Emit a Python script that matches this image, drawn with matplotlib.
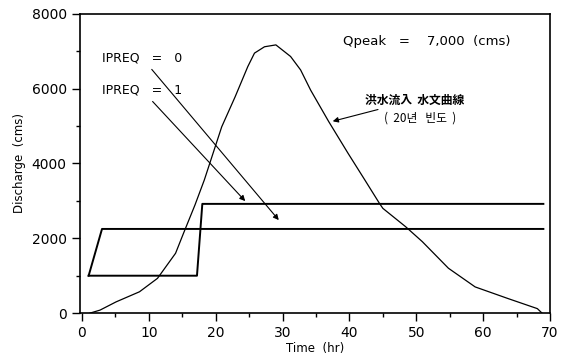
import numpy as np
import matplotlib.pyplot as plt

# inflow hydrograph (20-yr)
hydro_t = [1.2, 2.7, 5.1, 8.6, 11.3, 14.0, 15.2, 16.9, 18.3, 20.9, 22.9, 24.8, 25.8,
           27.3, 29.0, 31.2, 32.7, 34.2, 36.9, 39.8, 42.3, 44.5, 45.0, 48.4, 50.9,
           54.8, 58.8, 63.7, 68.1, 68.8]
hydro_q = [0, 80, 300, 570, 930, 1600, 2140, 2890, 3560, 4980, 5780, 6590, 6950,
           7120, 7170, 6860, 6500, 5960, 5120, 4270, 3560, 2930, 2800, 2310, 1910,
           1200, 700, 390, 120, 0]

# IPREQ = 0 release
ipreq0_t = [1.0, 3.0, 69.0]
ipreq0_q = [1000, 2250, 2250]

# IPREQ = 1 release
ipreq1_t = [1.0, 17.2, 18.0, 69.0]
ipreq1_q = [1000, 1000, 2920, 2920]

xticks = [0, 10, 20, 30, 40, 50, 60, 70]
yticks = [0, 2000, 4000, 6000, 8000]

fig = plt.figure(figsize=(5.63, 3.55), dpi=100)
ax = fig.add_axes([0.142, 0.118, 0.835, 0.843])

ax.plot(hydro_t, hydro_q, color='black', lw=0.9)
ax.plot(ipreq0_t, ipreq0_q, color='black', lw=1.4)
ax.plot(ipreq1_t, ipreq1_q, color='black', lw=1.4)

ax.set_xlim(-0.3, 70)
ax.set_ylim(0, 8000)
ax.set_xticks(xticks)
ax.set_yticks(yticks)
ax.set_xticks(np.arange(5, 70, 10), minor=True)
ax.set_yticks([1000, 3000, 5000, 7000], minor=True)
ax.tick_params(which='major', direction='out', length=6, width=1, labelsize=10)
ax.tick_params(which='minor', direction='out', length=3, width=1)
for s in ax.spines.values():
    s.set_linewidth(1.2)

ax.set_xlabel('Time  (hr)', fontsize=8.5, labelpad=1)
ax.set_ylabel('Discharge  (cms)', fontsize=8.5, labelpad=4)

arrow = dict(arrowstyle='-|>', color='black', lw=0.8, mutation_scale=8)
ax.annotate('IPREQ   =   0', xy=(29.7, 2430), xytext=(3.0, 6820), fontsize=9,
            va='center', arrowprops=arrow)
ax.annotate('IPREQ   =   1', xy=(24.7, 2940), xytext=(3.0, 5960), fontsize=9,
            va='center', arrowprops=arrow)
ax.text(39.0, 7250, 'Qpeak   =    7,000  (cms)', fontsize=9.5, va='center')

ax.annotate('洪水流入  水文曲線', xy=(37.1, 5110), xytext=(42.4, 5700),
            fontsize=8.5, va='center', weight='bold',
            family=['Noto Sans CJK KR', 'DejaVu Sans'],
            arrowprops=dict(arrowstyle='-|>', color='black', lw=0.8,
                            mutation_scale=8, shrinkA=1))
ax.text(50.6, 5220, '(  20년   빈도  )', fontsize=8.5, ha='center', va='center',
        family=['Noto Sans CJK KR', 'DejaVu Sans'])

fig.savefig('out.png', dpi=100)
